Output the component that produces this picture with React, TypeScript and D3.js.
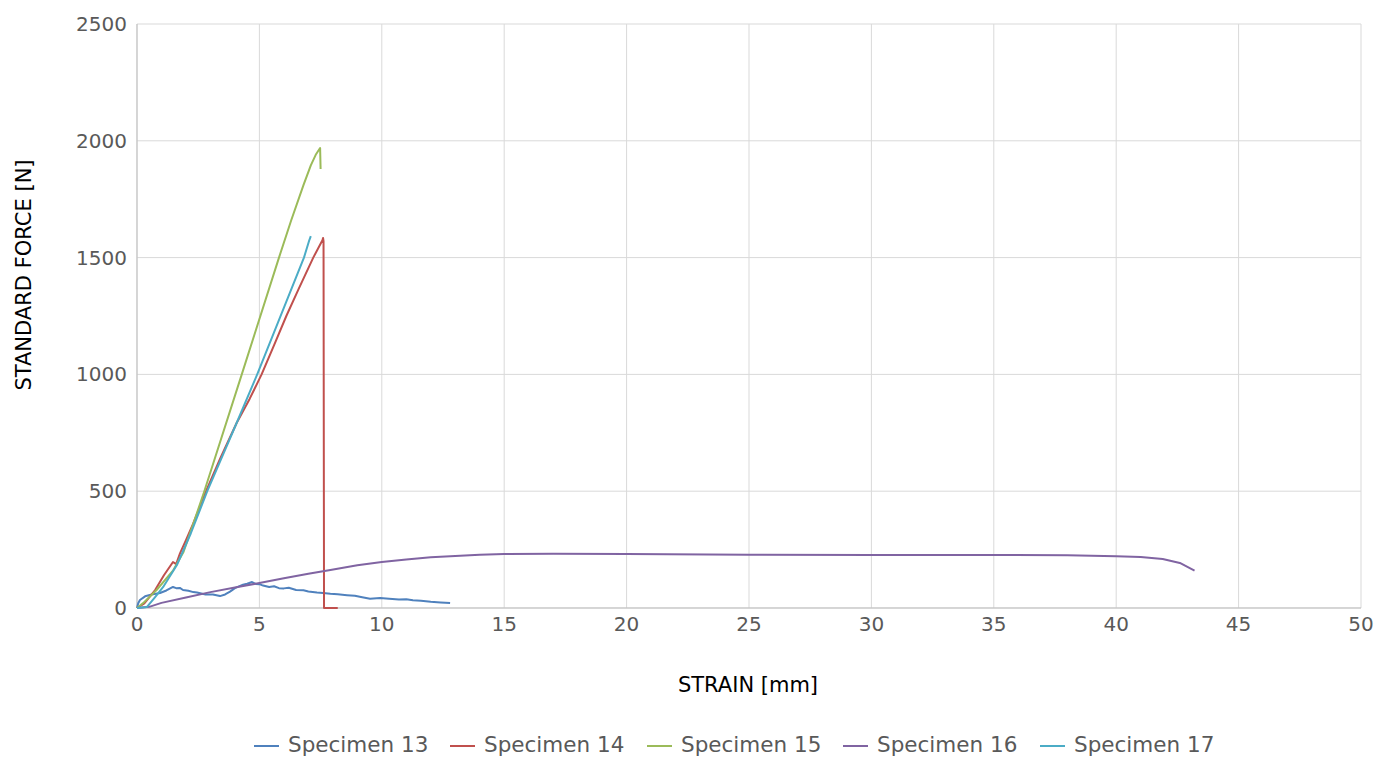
import React from "react";
import * as d3 from "d3";

const seriesNames = ["Specimen 13", "Specimen 14", "Specimen 15", "Specimen 16", "Specimen 17"];
const seriesColors = ["#4F81BD", "#C0504D", "#9BBB59", "#8064A2", "#4BACC6"];

const xTicks = [0, 5, 10, 15, 20, 25, 30, 35, 40, 45, 50];
const yTicks = [0, 500, 1000, 1500, 2000, 2500];

const specimen13: [number, number][] = [
  [0, 0], [0.05, 20], [0.12, 34], [0.33, 50], [0.6, 58], [0.94, 64], [1.2, 75], [1.47, 90], [1.6, 85],
  [1.75, 86], [1.88, 77], [2.1, 74], [2.3, 68], [2.45, 66], [2.8, 58], [3.1, 58], [3.39, 51], [3.6, 58],
  [3.8, 70], [4.0, 85], [4.33, 100], [4.5, 104], [4.7, 111], [4.85, 103], [5.0, 102], [5.15, 96], [5.4, 90],
  [5.6, 93], [5.8, 85], [6.0, 84], [6.2, 87], [6.5, 77], [6.8, 76], [7.0, 71], [7.35, 66], [7.6, 64],
  [7.9, 61], [8.2, 59], [8.58, 55], [8.9, 52], [9.2, 46], [9.52, 40], [9.93, 43], [10.3, 40], [10.7, 36],
  [11.0, 37], [11.27, 33], [11.6, 31], [12.0, 27], [12.4, 24], [12.79, 21],
];

const specimen14: [number, number][] = [
  [0, 0], [0.3, 20], [0.74, 77], [1.1, 140], [1.47, 197], [1.6, 188], [1.76, 235], [2.0, 290],
  [2.29, 360], [2.82, 500], [3.4, 640], [4.07, 792], [4.6, 895], [5.09, 1000], [5.6, 1125],
  [6.1, 1250], [6.6, 1365], [7.2, 1500], [7.58, 1575], [7.6, 1584], [7.62, 1570], [7.64, 0], [8.2, 0],
];

const specimen15: [number, number][] = [
  [0, 0], [0.25, 21], [0.8, 77], [1.47, 160], [1.9, 240], [2.3, 360], [2.75, 500], [4.28, 1000],
  [5.8, 1500], [6.3, 1660], [6.8, 1810], [7.1, 1895], [7.3, 1940], [7.48, 1969], [7.5, 1879],
];

const specimen16: [number, number][] = [
  [0, 0], [0.5, 5], [1, 22], [2, 45], [3, 68], [4, 88], [5, 107], [6, 127], [7, 147], [7.9, 163],
  [9, 183], [10, 197], [11, 208], [12, 217], [13, 223], [14, 228], [15, 231], [17, 232], [20, 231],
  [25, 228], [30, 227], [35, 227], [38, 226], [40, 222], [41, 218], [41.9, 210], [42.6, 193], [43.2, 160],
];

const specimen17: [number, number][] = [
  [0, 0], [0.4, 4], [0.74, 47], [1.07, 90], [1.63, 184], [2.2, 320], [2.87, 500], [4.07, 792],
  [4.91, 1000], [6.82, 1500], [7.04, 1575], [7.1, 1592],
];

const allSeries = [specimen13, specimen14, specimen15, specimen16, specimen17];
const legendTextX = [288, 484, 681, 877, 1074];

const W = 1395;
const H = 758;
const margin = { left: 137, right: 34, top: 24, bottom: 150 };
const FONT = "'DejaVu Sans', sans-serif";
const TEXT = "#595959";

export default function App() {
  const x = d3.scaleLinear().domain([0, 50]).range([margin.left, W - margin.right]);
  const y = d3.scaleLinear().domain([0, 2500]).range([H - margin.bottom, margin.top]);
  const line = d3
    .line<[number, number]>()
    .x((d) => x(d[0]))
    .y((d) => y(d[1]));

  return (
    <svg
      width={W}
      height={H}
      style={{ position: "absolute", left: 0, top: 0, background: "#fff" }}
      fontFamily={FONT}
    >
      {xTicks.map((t) => (
        <line key={"gx" + t} x1={x(t)} x2={x(t)} y1={y(0)} y2={y(2500)} stroke="#d9d9d9" strokeWidth={1} />
      ))}
      {yTicks.map((t) => (
        <line key={"gy" + t} x1={x(0)} x2={x(50)} y1={y(t)} y2={y(t)} stroke="#d9d9d9" strokeWidth={1} />
      ))}
      <line x1={x(0)} x2={x(0)} y1={y(0)} y2={y(2500)} stroke="#bfbfbf" strokeWidth={1} />
      <line x1={x(0)} x2={x(50)} y1={y(0)} y2={y(0)} stroke="#bfbfbf" strokeWidth={1} />

      {yTicks.map((t) => (
        <text key={"ty" + t} x={x(0) - 10} y={y(t)} dy="0.35em" textAnchor="end" fontSize={20} fill={TEXT}>
          {t}
        </text>
      ))}
      {xTicks.map((t) => (
        <text key={"tx" + t} x={x(t)} y={y(0) + 23} textAnchor="middle" fontSize={20} fill={TEXT}>
          {t}
        </text>
      ))}

      {allSeries.map((s, i) => (
        <path key={"s" + i} d={line(s) || ""} fill="none" stroke={seriesColors[i]} strokeWidth={2} strokeLinejoin="round" />
      ))}

      <text x={748} y={692} textAnchor="middle" fontSize={21} fill="#000">
        STRAIN [mm]
      </text>
      <text transform="translate(31,275) rotate(-90)" textAnchor="middle" fontSize={21} fill="#000">
        STANDARD FORCE [N]
      </text>

      {seriesNames.map((n, i) => (
        <g key={"lg" + i}>
          <line x1={legendTextX[i] - 34} x2={legendTextX[i] - 9} y1={746} y2={746} stroke={seriesColors[i]} strokeWidth={2} />
          <text x={legendTextX[i]} y={752} fontSize={21.5} fill={TEXT}>
            {n}
          </text>
        </g>
      ))}
    </svg>
  );
}
